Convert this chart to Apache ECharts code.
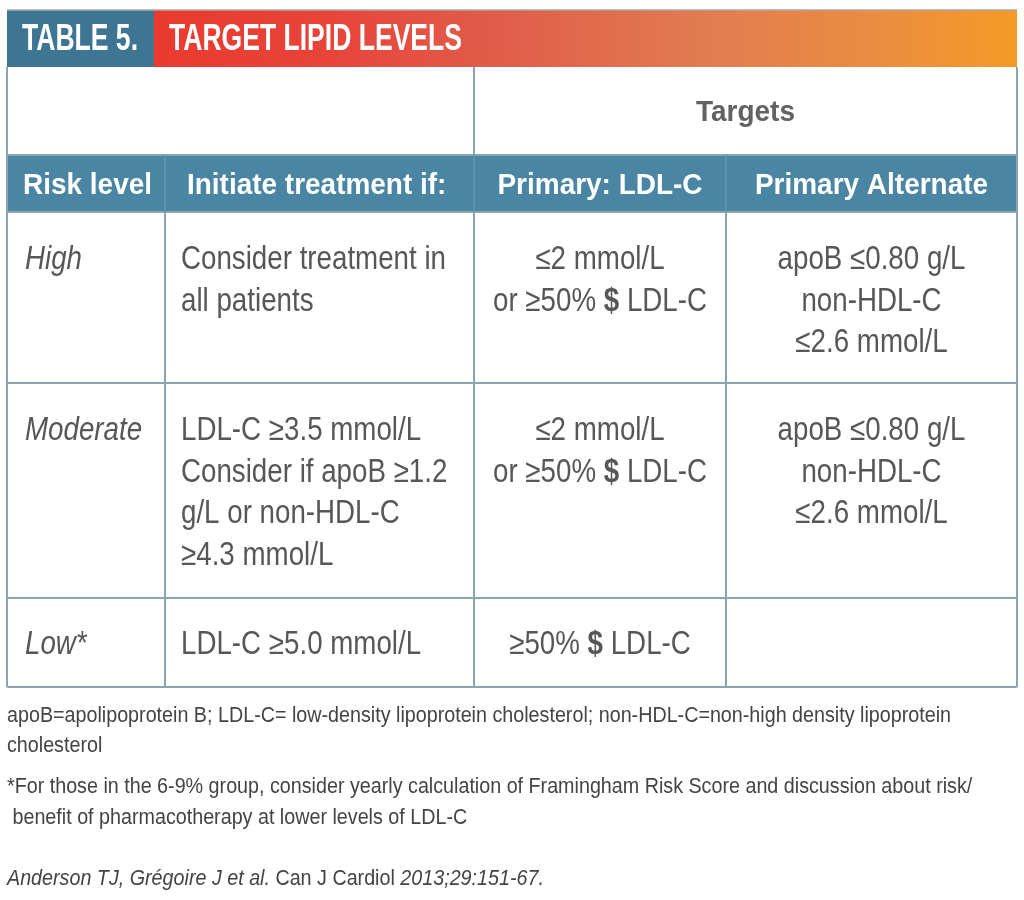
<!DOCTYPE html>
<html><head><meta charset="utf-8">
<script src="https://cdn.jsdelivr.net/npm/echarts@6/dist/echarts.min.js"></script>
<style>html,body{margin:0;padding:0;background:#fff}#c{width:1024px;height:900px}</style>
</head><body><div id="c"></div>
<script>
// ---- data ----
var tableNumber = 'TABLE 5.';
var tableTitle = 'TARGET LIPID LEVELS';
var groupHeader = 'Targets';
var columnHeaders = ['Risk level', 'Initiate treatment if:', 'Primary: LDL-C', 'Primary Alternate'];
var riskLevels = ['High', 'Moderate', 'Low*'];
var initiateIf = [
  ['Consider treatment in', 'all patients'],
  ['LDL-C \u22653.5 mmol/L', 'Consider if apoB \u22651.2', 'g/L or non-HDL-C', '\u22654.3 mmol/L'],
  ['LDL-C \u22655.0 mmol/L']
];
var primaryTarget = [
  ['\u22642 mmol/L', 'or \u226550% {b|$} LDL-C'],
  ['\u22642 mmol/L', 'or \u226550% {b|$} LDL-C'],
  ['\u226550% {b|$} LDL-C']
];
var alternateTarget = [
  ['apoB \u22640.80 g/L', 'non-HDL-C', '\u22642.6 mmol/L'],
  ['apoB \u22640.80 g/L', 'non-HDL-C', '\u22642.6 mmol/L'],
  []
];
var footnotes = [
  'apoB=apolipoprotein B; LDL-C= low-density lipoprotein cholesterol; non-HDL-C=non-high density lipoprotein',
  'cholesterol',
  '*For those in the 6-9% group, consider yearly calculation of Framingham Risk Score and discussion about risk/',
  ' benefit of pharmacotherapy at lower levels of LDL-C'
];
var citation = ['Anderson TJ, Gr\u00e9goire J et al.', ' Can J Cardiol ', '2013;29:151-67.'];

// ---- layout ----
var FONT = '"Liberation Sans", Arial, sans-serif';
var cv = document.createElement('canvas').getContext('2d');
function measure(t, f){ cv.font = f; return cv.measureText(t).width; }
var F_TITLE = 'bold 36px ' + FONT;
var F_HEAD = 'bold 29px ' + FONT;
var F_BODY = '33px ' + FONT;
var F_BODY_I = 'italic 33px ' + FONT;
var F_FOOT = '22px ' + FONT;
// horizontal condensing factors so the wide fallback font fits the condensed original
var sTitle = 116 / measure(tableNumber, F_TITLE);
var sHead = 129 / measure(columnHeaders[0], F_HEAD);
var sBody = 265 / measure(initiateIf[0][0], F_BODY);
var sFoot = 944 / measure(footnotes[0], F_FOOT);

var L = 7, R = 1017;
var colX = [L, 165, 474, 726, R];
var rowY = [67, 155, 212, 383, 598, 687];
var lineColor = '#8aa5b2';
var textColor = '#575757';
var LH = 41.7;

var g = [];
function txt(x, y, t, font, s, align, fill, rich){
  var st = {x:0, y:0, text:t, fill:fill, font:font, align:align||'left', verticalAlign:'middle'};
  if (rich) st.rich = rich;
  g.push({type:'text', x:x, y:y, scaleX:s, style:st});
}
// title bar
g.push({type:'rect', shape:{x:154, y:10, width:R-154, height:57},
  style:{fill:new echarts.graphic.LinearGradient(0,0,1,0,[
    {offset:0,color:'#ea3a2f'},{offset:0.2,color:'#e8443a'},{offset:0.4,color:'#e05d4b'},
    {offset:0.65,color:'#e27d50'},{offset:0.85,color:'#eb8e3f'},{offset:1,color:'#f59a26'}])}});
g.push({type:'rect', shape:{x:L, y:10, width:147, height:57}, style:{fill:'#3d7592'}});
g.push({type:'line', shape:{x1:L, y1:10, x2:R, y2:10}, style:{stroke:'#a9a9a9', lineWidth:1.5}});
txt(22, 40, tableNumber, F_TITLE, sTitle, 'left', '#fff');
txt(169, 40, tableTitle, F_TITLE, sTitle, 'left', '#fff');

// header row background
g.push({type:'rect', shape:{x:L, y:rowY[1], width:R-L, height:rowY[2]-rowY[1]}, style:{fill:'#4a86a3'}});

// grid lines
function hline(y){ g.push({type:'line', shape:{x1:L, y1:y, x2:R, y2:y}, style:{stroke:lineColor, lineWidth:2}}); }
function vline(x, y1, y2, c){ g.push({type:'line', shape:{x1:x, y1:y1, x2:x, y2:y2}, style:{stroke:c||lineColor, lineWidth:2}}); }
for (var i = 1; i < rowY.length; i++) hline(rowY[i]);
vline(L, rowY[0], rowY[5]); vline(R, rowY[0], rowY[5]);
vline(colX[2], rowY[0], rowY[1]);
for (var c = 1; c < 4; c++) { vline(colX[c], rowY[1], rowY[2], '#5f93ad'); vline(colX[c], rowY[2], rowY[5]); }

// group header
txt((colX[2]+R)/2, 113, groupHeader, F_HEAD, sHead, 'center', '#626262');
// column headers
var hdrX = [23, 187, (colX[2]+colX[3])/2, (colX[3]+R)/2];
var hdrAlign = ['left', 'left', 'center', 'center'];
columnHeaders.forEach(function(t, i){ txt(hdrX[i], 186, t, F_HEAD, sHead, hdrAlign[i], '#fff'); });

var rich = {b:{fontFamily:FONT, fontSize:33, fontWeight:'bold', fill:textColor}};
var firstLineY = [260, 431, 645];
riskLevels.forEach(function(r, i){
  var y0 = firstLineY[i];
  txt(25, y0, r, F_BODY_I, sBody, 'left', textColor);
  initiateIf[i].forEach(function(t, k){ txt(181, y0+k*LH, t, F_BODY, sBody, 'left', textColor); });
  primaryTarget[i].forEach(function(t, k){ txt((colX[2]+colX[3])/2, y0+k*LH, t, F_BODY, sBody, 'center', textColor, rich); });
  alternateTarget[i].forEach(function(t, k){ txt((colX[3]+R)/2, y0+k*LH, t, F_BODY, sBody, 'center', textColor); });
});

// footnotes
var fnY = [716, 746, 787, 818];
footnotes.forEach(function(t, i){ txt(7, fnY[i], t, F_FOOT, sFoot, 'left', '#444'); });
txt(7, 879, '{i|'+citation[0]+'}{n|'+citation[1]+'}{i|'+citation[2]+'}', F_FOOT, sFoot, 'left', '#444',
  {i:{fontFamily:FONT, fontSize:22, fontStyle:'italic', fill:'#444'}, n:{fontFamily:FONT, fontSize:22, fill:'#444'}});

var chart = echarts.init(document.getElementById('c'));
chart.setOption({backgroundColor:'#fff', animation:false, graphic:{elements:g}});
</script></body></html>
